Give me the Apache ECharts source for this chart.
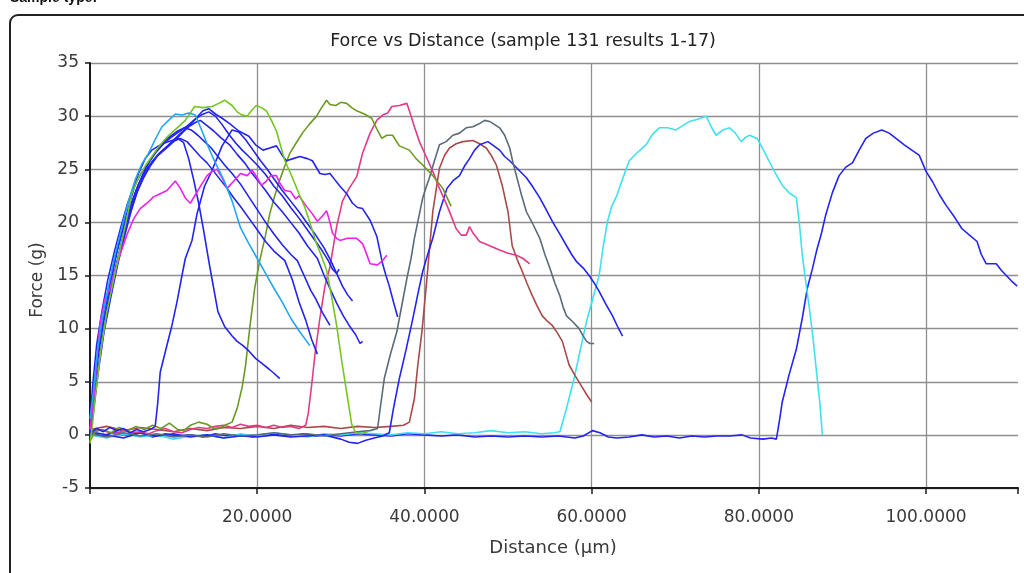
<!DOCTYPE html>
<html>
<head>
<meta charset="utf-8">
<script src="https://cdn.jsdelivr.net/npm/echarts@6/dist/echarts.min.js"></script>
<style>
html,body{margin:0;padding:0;background:#fff;}
#chart{width:1024px;height:573px;}
</style>
</head>
<body>
<div id="chart"></div>
<script>
// ---- data (Distance µm, Force g) ----
const chartTitle = 'Force vs Distance (sample 131 results 1-17)';
const xName = 'Distance (µm)';
const yName = 'Force (g)';
const yTicks = [-5, 0, 5, 10, 15, 20, 25, 30, 35];
const xTicks = [0, 20, 40, 60, 80, 100];

const r1 = [[0,1.5],[0.4,4],[0.9,8],[1.5,11],[2.2,14],[3,17],[3.8,19.5],[4.6,22],[5.4,24],[6.2,25.5],[7,26.5],[7.8,27.8],[8.6,29],[9.4,29.6],[10.2,30.2],[11,30.1],[11.8,30.3],[12.6,30.1],[13.4,28.6],[14.2,27],[15,25.6],[16,24],[17,22],[18,19.5],[19,18],[20,16.6],[21,15.2],[22,13.8],[23,12.5],[24,11],[25,9.8],[26.3,8.4]];
const r2 = [[0,-0.8],[0.3,1],[0.7,4],[1.3,8],[2,11.5],[2.8,14.5],[3.6,17.5],[4.3,20],[5,22.7],[5.8,24.2],[6.6,25.3],[7.4,26.2],[8.3,27.2],[9.3,28.1],[10.3,28.8],[11.4,29.6],[12,30.3],[12.5,30.9],[13.5,30.8],[14.6,30.9],[15.4,31.2],[16.1,31.5],[17,31],[17.6,30.4],[18.2,30.1],[18.8,30],[19.4,30.6],[19.9,31],[20.5,30.8],[21.1,30.5],[21.7,29.6],[22.3,28.6],[22.8,27.2],[23.3,25.8],[24,24.6],[25,22.7],[25.7,21.4],[26.3,20],[27,18.2],[27.6,17],[28.3,15.5],[28.9,13],[29.5,10.3],[30.1,7],[30.7,4],[31.3,1],[31.8,0.2],[32.5,0.1],[33.2,0.3]];
const r3 = [[0,0.5],[0.4,3],[0.8,7],[1.2,10.5],[1.8,12.8],[2.4,13.8],[3,15.5],[3.6,17],[4.4,18.8],[5.2,20.3],[6,21.3],[6.8,21.8],[7.6,22.4],[8.4,22.7],[9.2,23],[10.2,23.9],[10.8,23.2],[11.4,22.3],[12,21.8],[12.6,22.6],[13.3,23.5],[14,24.4],[14.6,24.8],[15.2,25],[15.8,24.2],[16.4,23.2],[17.2,23.9],[18,24.6],[18.8,24.4],[19.4,24.9],[20,24.2],[20.5,23.5],[21,23.8],[21.6,24.4],[22.3,24.4],[22.7,23.7],[23.3,23],[24,22.9],[24.6,22.2],[25,22.5],[25.8,21.6],[26.6,20.8],[27.2,20.1],[27.8,20.6],[28.3,21.1],[28.7,20],[29,19],[29.5,18.5],[29.9,18.3],[30.8,18.5],[31.9,18.5],[32.6,18],[33,17.2],[33.5,16.1],[34.4,16],[35,16.4],[35.5,16.9]];
const r4 = [[0,0.3],[0.4,3.5],[0.9,7],[1.6,10.5],[2.4,13.5],[3.2,16.2],[4,18.8],[4.8,21],[5.6,22.8],[6.4,24.2],[7.2,25.3],[8,26.2],[9,26.9],[10,27.6],[11,28.4],[12,29.2],[12.8,29.9],[13.5,30.5],[14.2,30.7],[15,30.2],[15.8,29.8],[16.7,29.3],[17.8,28.6],[19,28.1],[19.8,27.3],[20.7,26.8],[21.5,27],[22.3,27.2],[23,26.3],[23.5,25.8],[24.3,26],[25.1,26.2],[26,26],[26.6,25.8],[27.5,24.6],[28.1,24.5],[28.7,24.6],[29.3,24],[29.9,23.4],[30.7,22.7],[31.4,21.8],[32,21.4],[32.6,21.3],[33.5,20.2],[34.3,18.7],[35,16.1],[35.4,15],[35.8,14],[36.3,12.5],[36.8,11.1]];
const r5 = [[0,0.8],[0.4,4],[1,8],[1.7,11.5],[2.5,14.5],[3.3,17.5],[4.1,20],[5,22.5],[5.8,24.6],[6.6,26],[7.4,26.8],[8.2,27.2],[9,27.5],[9.8,27.7],[10.5,27.9],[11.2,27.5],[11.8,26],[12.4,24],[13,21.8],[13.6,19.2],[14.2,16.4],[14.7,14.2],[15.3,11.6],[16.1,10.2],[17,9.3],[17.6,8.8],[18.3,8.4],[19,7.9],[19.8,7.2],[20.6,6.7],[21.4,6.2],[22,5.8],[22.7,5.3]];
const r6 = [[0,-0.3],[0.5,3],[1.1,7],[1.8,10.5],[2.6,13.8],[3.4,16.8],[4.2,19.5],[5,21.8],[5.8,23.6],[6.6,24.8],[7.5,25.8],[8.4,26.6],[9.3,27.2],[10.2,27.9],[11,28.5],[11.8,29],[12.6,29.4],[13.2,29.6],[14,29.1],[14.8,28.6],[15.6,28],[16.7,27.3],[17.6,26.4],[18.5,25.6],[19.3,24.7],[20,24],[21,23],[22,21.9],[23,21],[24,20],[25,19],[26,17.8],[27.2,16.6],[28,15],[28.8,13.6],[29.5,12.4],[30.3,11.2],[31,10.3],[31.8,9.4],[32.3,8.6],[32.6,8.8]];
const r7 = [[0,1],[0.3,4.5],[0.8,8.5],[1.4,11.5],[2.1,14.5],[2.9,17.2],[3.7,19.6],[4.5,21.8],[5.3,23.4],[6.1,24.6],[7,25.6],[7.9,26.6],[8.8,27.4],[9.7,28],[10.6,28.5],[11.5,29],[12.4,29.6],[13.3,30.1],[14.2,30.4],[15,30],[15.8,29.2],[16.6,28.3],[17.4,27.5],[18.2,26.8],[19,26.2],[20,25.4],[21,24.5],[22,23.4],[23,22.5],[24,21.4],[25,20.4],[26,19.3],[27,18.2],[27.8,17.3],[28.5,16.4],[29,15.6],[29.5,15.2],[29.8,15.6]];
const r8 = [[0,0],[0.5,2.8],[1,6],[1.7,9.8],[2.5,13],[3.3,16],[4.1,18.6],[4.9,21],[5.7,23],[6.5,24.4],[7.3,25.5],[8.1,26.3],[9,27],[9.9,27.6],[10.8,27.9],[11.6,27.6],[12.4,26.9],[13.2,26.2],[14,25.6],[14.8,24.8],[15.6,24],[16.4,23.2],[17.2,22.3],[18,21.5],[19,20.4],[20,19.3],[21,18.2],[22,17.3],[23.3,16.4],[24.2,14.6],[25,12.5],[25.8,10.8],[26.5,9],[27.2,7.6]];
const r9 = [[0,0.6],[0.4,3.8],[0.9,7.5],[1.5,10.8],[2.3,14],[3.1,16.9],[3.9,19.2],[4.7,21.2],[5.5,23],[6.3,24.5],[7.1,25.7],[7.9,26.7],[8.7,27.5],[9.6,28.1],[10.5,28.6],[11.3,28.9],[12.1,28.7],[12.9,28.2],[13.7,27.6],[14.5,27],[15.3,26.2],[16.1,25.4],[17,24.6],[18,23.6],[19,22.4],[20,21.2],[21,20],[22,18.9],[23,17.9],[24,17],[24.8,16.4],[25.6,15],[26.4,13.6],[27,12.8],[27.8,11.5],[28.7,10.3]];
const r10 = [[0,0.2],[0.8,0.6],[1.6,0.3],[2.4,0.7],[3.2,0.4],[4,0.6],[4.8,0.2],[5.6,0.5],[6.4,0.3],[7.2,0.5],[7.8,0.8],[8.1,3],[8.4,5.9],[9,7.8],[9.8,10.3],[10.4,12.5],[11,15],[11.4,16.6],[12.2,18.3],[12.8,20.8],[13.7,23.4],[14.6,24.9],[15.8,27.2],[17,28.7],[17.8,28.5],[18.6,27.8],[19.5,26.8],[20.4,25.8],[21.2,25],[22,24.1],[23,23],[24,22],[25,21],[26,19.9],[27,18.8],[28,17.6],[28.8,16.4],[29.5,15.2],[30.2,14],[30.8,13.2],[31.4,12.6]];
const r11 = [[0,-0.6],[0.6,0.3],[1.5,0.5],[2.5,0.2],[3.5,0.7],[4.5,0.4],[5.5,0.8],[6.5,0.5],[7.5,0.9],[8.5,0.6],[9.5,1.1],[10.5,0.5],[11.2,0.4],[12,0.9],[13,1.2],[14,1],[14.8,0.6],[15.6,0.7],[16.4,1],[17,1.2],[17.6,2.5],[18.2,4.5],[18.6,6.5],[19.1,10],[19.7,13.8],[20.3,16.4],[21,18.8],[21.5,20.8],[22.1,22.5],[22.7,24],[23.3,25.3],[23.9,26.5],[24.6,27.4],[25.4,28.4],[26.2,29.2],[27.1,30],[27.7,30.8],[28.3,31.5],[28.7,31.1],[29.4,31],[30,31.3],[30.7,31.2],[31.3,30.8],[31.9,30.5],[32.8,30.2],[33.7,29.8],[34.3,28.8],[34.9,27.9],[35.5,28.2],[36.2,28.2],[37,27.2],[38.2,26.8],[39,26],[39.8,25.4],[41,24.4],[42.2,23.2],[43.2,21.5]];
const r12 = [[0,0.2],[1,0.5],[2,0.3],[3,0.1],[4,0.4],[5,0.2],[6,0.3],[7,0.1],[8,0.4],[9,0.6],[10,0.3],[11,0.2],[12,0.5],[13,0.7],[14,0.6],[15,0.8],[16,0.9],[17,0.7],[18,1],[19,0.8],[20,0.9],[21,0.7],[22,0.9],[23,0.7],[24,0.8],[25,0.6],[25.8,0.9],[26.1,2],[26.5,4.6],[26.9,7.5],[27.5,11],[28.1,14],[28.7,15.8],[29.5,19.6],[30.2,22],[31,23.2],[31.9,24.3],[32.6,26.5],[33.5,28.4],[34.3,29.6],[35,30.1],[35.6,30.3],[36.1,30.9],[37,31],[37.9,31.2],[38.2,30.5],[38.8,29],[39.4,27.6],[40.2,26.2],[41,24.8],[41.8,23.2],[42.7,21.6],[43.3,20.4],[43.8,19.4],[44.4,18.8],[45,18.8],[45.4,19.6],[45.8,19],[46.6,18.2],[47.8,17.8],[49,17.4],[50,17.1],[51,16.9],[51.8,16.6],[52.6,16.1]];
const r13 = [[0,0.1],[2,-0.2],[4,0.2],[6,-0.1],[8,0.1],[10,-0.2],[12,0],[14,-0.2],[16,0.1],[18,-0.1],[20,0],[22,0.2],[24,0],[26,0.1],[28,-0.1],[30,0.1],[32,0.3],[33.5,0.4],[34.4,0.6],[34.8,3],[35.2,5.3],[35.9,7.5],[36.7,9.7],[37.3,12.2],[37.9,14.7],[38.4,16.6],[38.8,18.5],[39.3,20.4],[39.8,22.3],[40.2,23.3],[40.6,24.2],[41.2,25.8],[41.8,27.3],[42.6,27.6],[43.4,28.2],[44.2,28.4],[45,28.9],[45.8,29],[46.6,29.3],[47.2,29.6],[47.8,29.5],[48.4,29.2],[49,28.9],[49.6,28.2],[50.2,27],[50.6,25.6],[51,24.4],[51.6,22.6],[52.2,21],[53,19.8],[53.8,18.5],[54.4,17],[55,15.7],[55.6,14.3],[56.2,13.1],[56.6,12],[57,11.2],[57.8,10.6],[58.5,10],[59,9.3],[59.4,8.8],[59.8,8.6],[60.3,8.6]];
const r14 = [[0,0.3],[2,0],[4,-0.3],[6,0.2],[8,-0.1],[10,0.1],[12,-0.2],[14,0],[16,-0.3],[18,-0.1],[20,-0.2],[22,0],[24,-0.2],[26,-0.1],[28,0],[30,-0.4],[31,-0.7],[32,-0.8],[33,-0.5],[34,-0.3],[35,-0.1],[35.8,0.2],[36.3,2.5],[37,5.3],[37.8,8],[38.6,10.9],[39.2,13.2],[39.8,15.4],[40.4,17],[41,18.5],[41.8,21],[42.7,23.2],[43.4,23.9],[44.2,24.4],[44.8,25.3],[45.4,26],[46,26.8],[46.6,27.3],[47.6,27.6],[48.3,27.2],[49,26.8],[49.6,26.2],[50.2,25.8],[51.2,25],[52.2,24.2],[53,23.3],[53.8,22.3],[54.5,21.3],[55.3,20.1],[56.2,18.9],[57,17.8],[57.6,17],[58.2,16.3],[59,15.7],[59.7,15],[60.3,14.3],[60.9,13.5],[61.7,12.3],[62.5,11.2],[63.1,10.2],[63.7,9.3]];
const r15 = [[0,0.5],[2,0.8],[4,0.4],[6,0.7],[8,0.5],[10,0.3],[12,0.6],[14,0.4],[16,0.7],[18,0.6],[20,0.8],[22,0.6],[24,0.9],[26,0.7],[28,0.8],[30,0.6],[32,0.8],[34,0.7],[36,0.8],[37.5,0.9],[38.2,1.2],[38.8,3.4],[39.2,6.5],[39.7,9.7],[40.3,14.7],[41,21],[41.8,25.1],[42.4,26.3],[43,27],[43.8,27.4],[44.6,27.6],[45.8,27.7],[46.6,27.4],[47.4,27],[48,26.3],[48.6,25.4],[49.3,23.5],[50,21],[50.5,17.8],[51.1,16.5],[51.7,15.4],[52.3,14.2],[52.9,13.1],[53.5,12.1],[54.1,11.2],[54.7,10.7],[55.3,10.3],[55.9,9.6],[56.5,8.8],[57.3,6.6],[58,5.6],[58.7,4.7],[59.4,3.8],[60,3.1]];
const r16 = [[0,0],[2,-0.3],[4,0.1],[6,-0.2],[8,0],[10,-0.4],[12,-0.1],[14,0],[16,-0.3],[18,0.1],[20,-0.1],[22,0.2],[24,0],[26,-0.2],[28,0.1],[30,0],[32,0.2],[34,0.1],[36,0],[38,0.2],[40,0.1],[42,0.3],[44,0.1],[46,0.2],[48,0.4],[50,0.2],[52,0.3],[54,0.1],[55.5,0.2],[56.2,0.3],[57,2.5],[57.9,5.3],[58.7,8.2],[59.4,10.7],[60.2,13],[60.9,15],[61.4,17.8],[61.9,20.1],[62.4,21.5],[63,22.5],[63.8,24.3],[64.5,25.8],[65.5,26.6],[66.5,27.3],[67.3,28.3],[68.1,28.9],[69.1,28.9],[70.1,28.7],[70.9,29.1],[71.7,29.5],[72.7,29.7],[73.7,30],[74.3,29],[74.9,28.2],[75.7,28.7],[76.5,28.9],[77.2,28.4],[77.9,27.6],[78.4,28],[78.9,28.2],[79.8,27.9],[80.5,26.9],[81.2,25.8],[82,24.6],[82.8,23.5],[83.6,22.8],[84.5,22.3],[84.9,19.5],[85.2,16.9],[85.6,14.5],[86,12.2],[86.5,9],[86.9,5.9],[87.3,3],[87.6,0]];
const r17 = [[0,0.2],[1.5,-0.1],[3,0.3],[4.5,0],[6,0.2],[7.5,-0.2],[9,0.1],[10.5,-0.1],[12,0],[13.5,-0.2],[15,0.1],[16.5,-0.1],[18,0],[19.5,-0.2],[21,0.1],[22.5,0],[24,-0.1],[25.5,0.1],[27,-0.1],[28.5,0],[30,-0.1],[32,0.1],[34,0],[36,-0.1],[38,0.1],[40,0],[42,-0.1],[44,0],[46,-0.2],[48,-0.1],[50,-0.2],[52,-0.1],[54,-0.2],[56,-0.1],[58,-0.3],[59,-0.1],[60.1,0.4],[61,0.2],[62,-0.2],[63,-0.3],[64.5,-0.2],[66,0],[67.5,-0.2],[69,-0.1],[70.5,-0.3],[72,-0.1],[73.5,-0.2],[75,-0.1],[76.5,-0.1],[78,0],[79,-0.3],[80.5,-0.4],[81.5,-0.3],[82.1,-0.4],[82.5,1.5],[82.8,3.1],[83.6,5.6],[84.5,8.1],[85.2,11],[85.8,13.8],[86.4,15.6],[86.9,17.3],[87.5,19],[88,20.7],[88.8,22.8],[89.6,24.4],[90.4,25.2],[91.2,25.6],[92,26.8],[92.8,27.9],[93.7,28.4],[94.7,28.7],[95.6,28.4],[96.4,27.9],[97.4,27.3],[98.3,26.8],[99.2,26.3],[100,24.8],[100.8,23.8],[101.6,22.6],[102.4,21.6],[103.4,20.5],[104.3,19.4],[105.2,18.8],[106.1,18.2],[106.6,17],[107.2,16.1],[108.4,16.1],[109,15.5],[109.6,15],[110.2,14.5],[110.9,14]];

const seriesData = [r17, r16, r15, r14, r13, r12, r11, r10, r9, r8, r7, r6, r5, r4, r3, r2, r1];
const seriesNames = ['Result 17','Result 16','Result 15','Result 14','Result 13','Result 12','Result 11','Result 10','Result 9','Result 8','Result 7','Result 6','Result 5','Result 4','Result 3','Result 2','Result 1'];
const seriesColors = ['#2424f2','#3fe0f0','#a84a4a','#2424f2','#5b6a78','#e23a8a','#6b9a22','#2424f2','#2424f2','#2424f2','#2424f2','#2424f2','#2424f2','#2424f2','#ee22ee','#74c61e','#22a6f4'];

const chart = echarts.init(document.getElementById('chart'), null, {renderer: 'canvas'});
const FONT = 'DejaVu Sans';
const option = {
  animation: false,
  backgroundColor: '#fff',
  grid: {left: 90, right: 6, top: 63, bottom: 85, containLabel: false},
  xAxis: {
    type: 'value', min: 0, max: 111, interval: 20,
    axisLine: {show: true, onZero: false, lineStyle: {color: '#1a1a1a', width: 2}},
    axisTick: {show: true, length: 6, lineStyle: {color: '#1a1a1a', width: 1.5}},
    axisLabel: {margin: 21, color: '#3a3a3a', fontFamily: FONT, fontSize: 17,
      formatter: v => (xTicks.indexOf(v) > 0 ? v.toFixed(4) : '')},
    splitLine: {show: true, showMinLine: false, showMaxLine: false, lineStyle: {color: '#8e8e8e', width: 1.3}}
  },
  yAxis: {
    type: 'value', min: yTicks[0], max: yTicks[yTicks.length-1], interval: 5,
    axisLine: {show: true, onZero: false, lineStyle: {color: '#1a1a1a', width: 2}},
    axisTick: {show: true, length: 5, lineStyle: {color: '#1a1a1a', width: 1.5}},
    axisLabel: {margin: 11, color: '#3a3a3a', fontFamily: FONT, fontSize: 17},
    splitLine: {show: true, lineStyle: {color: '#8e8e8e', width: 1.3}}
  },
  graphic: [
    {type: 'rect', shape: {x: 10, y: 15, width: 1030, height: 580, r: 8}, style: {fill: 'none', stroke: '#222', lineWidth: 2}, silent: true, z: 0},
    {type: 'text', x: 10, y: -9, style: {text: 'Sample type:', font: 'bold 14px "Liberation Sans"', fill: '#111'}, z: 10},
    {type: 'text', x: 523, y: 41, style: {text: chartTitle, font: '17.5px "' + FONT + '"', fill: '#222', align: 'center', verticalAlign: 'middle'}, z: 10},
    {type: 'text', x: 553, y: 548, style: {text: xName, font: '18px "' + FONT + '"', fill: '#3a3a3a', align: 'center', verticalAlign: 'middle'}, z: 10},
    {type: 'text', x: 38, y: 280, rotation: Math.PI / 2, style: {text: yName, font: '17px "' + FONT + '"', fill: '#3a3a3a', align: 'center', verticalAlign: 'middle'}, z: 10}
  ],
  series: seriesData.map((d, i) => ({
    name: seriesNames[i], type: 'line', data: d, showSymbol: false, symbol: 'none',
    lineStyle: {color: seriesColors[i], width: 1.6}, itemStyle: {color: seriesColors[i]},
    z: 3, silent: true
  }))
};
chart.setOption(option);
</script>
</body>
</html>
